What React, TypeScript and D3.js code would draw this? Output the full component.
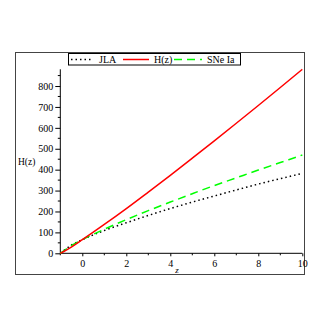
import { useEffect, useRef } from 'react';
import * as d3 from 'd3';

const zValues = [-1, -0.5, 0, 1, 2, 3, 4, 5, 6, 7, 8, 9, 10];
const hzValues = [0, 30, 65, 138, 214, 293, 373, 455, 538, 622, 707, 793, 880];
const jlaValues = [0, 39, 65, 109, 146, 181, 214, 245, 274, 303, 331, 357, 382];
const sneValues = [0, 37, 65, 115, 161, 204, 245, 285, 324, 361, 398, 434, 470];
const xTicks = [0, 2, 4, 6, 8, 10];
const yTicks = [0, 100, 200, 300, 400, 500, 600, 700, 800];
const legendLabels = ['JLA', 'H(z)', 'SNe Ia'];

const W = 327;
const H = 327;
const font = '"Liberation Serif", "DejaVu Serif", serif';

const App = () => {
  const ref = useRef<SVGSVGElement>(null);

  useEffect(() => {
    const svg = d3.select(ref.current);
    svg.selectAll('*').remove();

    const x = d3.scaleLinear().domain([-1, 10]).range([60.3, 302.3]);
    const y = d3.scaleLinear().domain([0, 880]).range([253.3, 69.3]);

    // outer frame
    svg.append('rect')
      .attr('x', 15.5).attr('y', 52.5).attr('width', 289).attr('height', 222)
      .attr('fill', 'none').attr('stroke', '#444').attr('stroke-width', 1);

    // y axis
    const yAxis = d3.axisLeft(y).tickValues(yTicks).tickSize(5).tickPadding(2)
      .tickFormat(d3.format('d'));
    const gy = svg.append('g').attr('transform', `translate(${x(-1)},0)`).call(yAxis);
    gy.select('.domain').remove();
    gy.append('line').attr('x1', 0).attr('x2', 0).attr('y1', y(0)).attr('y2', y(880))
      .attr('stroke', '#000');
    const yMinor = d3.range(50, 880, 100);
    gy.selectAll('.minor').data(yMinor).enter().append('line')
      .attr('x1', -2.5).attr('x2', 0).attr('y1', (d) => y(d)).attr('y2', (d) => y(d))
      .attr('stroke', '#000');

    // x axis
    const xAxis = d3.axisBottom(x).tickValues(xTicks).tickSize(3).tickPadding(4)
      .tickFormat(d3.format('d'));
    const gx = svg.append('g').attr('transform', `translate(0,${y(0)})`).call(xAxis);
    gx.select('.domain').remove();
    gx.append('line').attr('x1', x(-1)).attr('x2', x(10)).attr('y1', 0).attr('y2', 0)
      .attr('stroke', '#000');
    const xMinor = [-1, 1, 3, 5, 7, 9];
    gx.selectAll('.minor').data(xMinor).enter().append('line')
      .attr('x1', (d) => x(d)).attr('x2', (d) => x(d)).attr('y1', 0).attr('y2', 2)
      .attr('stroke', '#000');

    svg.selectAll('.tick text').attr('font-family', font).attr('font-size', 10).attr('fill', '#000');
    svg.selectAll('.tick line').attr('stroke', '#000');

    // axis labels
    svg.append('text').attr('x', 18).attr('y', 165).attr('font-family', font)
      .attr('font-size', 9.5).text('H(z)');
    svg.append('text').attr('x', x(4.3)).attr('y', 273).attr('font-family', font)
      .attr('font-size', 9).attr('font-style', 'italic').attr('text-anchor', 'middle').text('z');

    // curves
    const line = (vals: number[]) =>
      d3.line<number>().x((_, i) => x(zValues[i])).y((d) => y(d)).curve(d3.curveMonotoneX)(vals);

    svg.append('path').attr('d', line(jlaValues)).attr('fill', 'none')
      .attr('stroke', '#000').attr('stroke-width', 1.5).attr('stroke-dasharray', '1.5,3');
    svg.append('path').attr('d', line(sneValues)).attr('fill', 'none')
      .attr('stroke', '#00ff00').attr('stroke-width', 1.5).attr('stroke-dasharray', '8,5');
    svg.append('path').attr('d', line(hzValues)).attr('fill', 'none')
      .attr('stroke', '#ff0000').attr('stroke-width', 1.5);

    // legend
    const lg = svg.append('g');
    lg.append('rect').attr('x', 68.5).attr('y', 53.5).attr('width', 172).attr('height', 11.5)
      .attr('fill', '#fff').attr('stroke', '#000').attr('stroke-width', 1);
    const samples = [
      { x0: 71, x1: 93, color: '#000', dash: '1.5,3', tx: 99 },
      { x0: 123, x1: 149, color: '#ff0000', dash: null, tx: 154 },
      { x0: 174, x1: 202, color: '#00ff00', dash: '8,5', tx: 207 },
    ];
    samples.forEach((s, i) => {
      lg.append('line').attr('x1', s.x0).attr('x2', s.x1).attr('y1', 59.5).attr('y2', 59.5)
        .attr('stroke', s.color).attr('stroke-width', 1.5)
        .attr('stroke-dasharray', s.dash);
      lg.append('text').attr('x', s.tx).attr('y', 63).attr('font-family', font)
        .attr('font-size', 10).text(legendLabels[i]);
    });
  }, []);

  return (
    <svg ref={ref} width={W} height={H}
      style={{ position: 'absolute', left: 0, top: 0, background: '#fff' }} />
  );
};

export default App;
